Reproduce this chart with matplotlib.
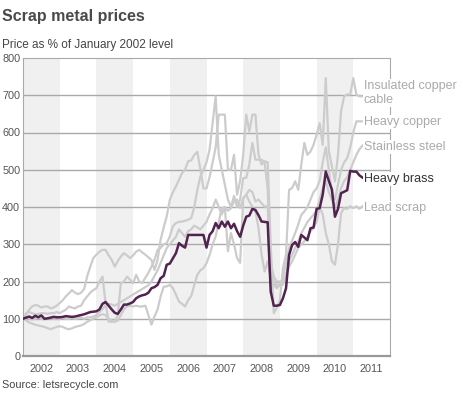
import numpy as np
import matplotlib
matplotlib.use("Agg")
import matplotlib.pyplot as plt

plt.rcParams['font.family'] = ['Liberation Sans', 'DejaVu Sans']

# monthly values, Jan 2002 .. Apr 2011 (price as % of Jan 2002)
heavy_brass = [
    100, 103, 106, 102, 108, 104, 109, 100, 101, 103, 105, 104,
    104, 105, 107, 106, 105, 106, 108, 110, 112, 115, 118, 119,
    120, 125, 140, 145, 135, 125, 116, 113, 125, 138, 138, 141,
    145, 155, 160, 163, 165, 170, 182, 185, 191, 209, 215, 245,
    248, 262, 276, 303, 296, 291, 325, 325, 325, 325, 325, 325,
    291, 325, 335, 357, 343, 361, 347, 361, 343, 355, 335, 320,
    350, 374, 377, 395, 392, 378, 361, 360, 359, 173, 135, 135,
    137, 155, 182, 271, 298, 306, 293, 325, 318, 311, 343, 345,
    395, 397, 433, 495, 470, 447, 374, 395, 437, 441, 445, 497,
    495, 495, 485, 479,
]
insulated_copper_cable = [
    100, 112, 124, 133, 137, 135, 130, 133, 133, 128, 130, 135,
    142, 150, 160, 168, 177, 170, 166, 170, 180, 214, 240, 263,
    272, 280, 285, 285, 270, 258, 240, 255, 267, 276, 270, 263,
    270, 280, 285, 278, 272, 265, 258, 231, 258, 312, 345, 375,
    419, 440, 455, 473, 491, 500, 523, 525, 540, 548, 500, 450,
    450, 480, 520, 560, 648, 648, 648, 500, 500, 540, 433, 470,
    540, 648, 603, 648, 648, 540, 514, 523, 520, 300, 115, 130,
    150, 236, 272, 446, 451, 469, 446, 514, 572, 540, 549, 567,
    594, 625, 567, 746, 549, 510, 469, 540, 657, 697, 702, 702,
    746, 702, 697, 697,
]
heavy_copper = [
    100, 115, 118, 115, 112, 113, 115, 115, 113, 115, 115, 118,
    115, 120, 124, 133, 130, 128, 133, 135, 150, 160, 170, 177,
    182, 200, 213, 142, 92, 92, 92, 110, 195, 200, 213, 205,
    195, 218, 200, 196, 210, 223, 240, 258, 285, 290, 300, 303,
    321, 348, 357, 360, 361, 363, 366, 370, 400, 446, 482, 500,
    520, 554, 625, 697, 540, 500, 460, 420, 400, 430, 400, 420,
    478, 478, 514, 572, 527, 527, 527, 520, 450, 227, 191, 182,
    191, 210, 250, 290, 310, 330, 353, 379, 388, 400, 420, 440,
    450, 470, 520, 560, 500, 440, 420, 460, 500, 520, 531, 560,
    600, 630, 630, 630,
]
stainless_steel = [
    100, 104, 100, 98, 100, 102, 100, 98, 100, 102, 100, 101,
    100, 102, 100, 100, 102, 100, 101, 103, 100, 104, 104, 106,
    110, 118, 126, 135, 140, 138, 135, 140, 145, 150, 155, 160,
    165, 170, 175, 180, 185, 190, 200, 215, 230, 250, 270, 290,
    300, 310, 320, 340, 330, 320, 335, 340, 350, 345, 340, 350,
    360, 380, 397, 420, 400, 380, 400, 390, 397, 415, 420, 397,
    424, 433, 446, 440, 415, 420, 410, 401, 402, 250, 213, 200,
    200, 191, 218, 254, 272, 290, 308, 330, 344, 360, 370, 379,
    390, 420, 450, 470, 440, 420, 400, 420, 450, 470, 480, 500,
    520, 540, 555, 565,
]
lead_scrap = [
    100, 96, 90, 87, 84, 82, 80, 78, 75, 72, 75, 78,
    80, 78, 74, 72, 74, 78, 80, 82, 86, 92, 96, 100,
    104, 109, 112, 110, 100, 96, 92, 95, 110, 125, 133, 135,
    133, 135, 133, 133, 135, 110, 84, 106, 125, 160, 186, 187,
    191, 182, 165, 146, 140, 133, 150, 161, 190, 218, 230, 236,
    249, 271, 300, 321, 360, 397, 400, 281, 330, 300, 263, 250,
    424, 433, 415, 400, 388, 344, 272, 227, 254, 209, 200, 190,
    191, 200, 218, 240, 254, 272, 290, 300, 308, 320, 335, 344,
    360, 400, 380, 330, 300, 254, 245, 300, 384, 397, 395, 402,
    397, 402, 395, 402,
]
years = list(range(2002, 2012))
grey_series = [
    ("Insulated copper\ncable", insulated_copper_cable, 706),
    ("Heavy copper", heavy_copper, 628),
    ("Stainless steel", stainless_steel, 561),
    ("Lead scrap", lead_scrap, 397),
]

t = 2002 + np.arange(len(heavy_brass)) / 12.0

fig = plt.figure(figsize=(4.64, 3.93), dpi=100)
ax = fig.add_axes([23/464, 37/393, 367/464, 298/393])

# alternate year shading
for y in years[::2]:
    ax.axvspan(y, y + 1, color='#f0f0f0', lw=0, zorder=0)

for v in range(100, 800, 100):
    ax.axhline(v, color='#aaaaaa', lw=1, zorder=1)

grey = '#cccccc'
for name, vals, ly in grey_series:
    ax.plot(t, vals, color=grey, lw=1.6, zorder=2, solid_joinstyle='round')
ax.plot(t, heavy_brass, color='#522250', lw=1.8, zorder=3, solid_joinstyle='round')

ax.set_xlim(2002, 2012)
ax.set_ylim(0, 800)
ax.set_yticks(range(0, 900, 100))
ax.set_xticks([y + 0.5 for y in years])
ax.set_xticklabels([str(y) for y in years])
ax.tick_params(axis='both', length=0, labelsize=7.8, colors='#555555')
ax.tick_params(axis='y', pad=2)
ax.tick_params(axis='x', pad=6)

for s in ['left', 'top', 'right']:
    ax.spines[s].set_color('#aaaaaa')
    ax.spines[s].set_linewidth(0.8)
ax.spines['bottom'].set_color('#999999')
ax.spines['bottom'].set_linewidth(1.6)

# series labels at the right end
lab_x = 2011.28
box = dict(facecolor='white', edgecolor='none', pad=0.5)
for name, vals, ly in grey_series:
    ax.text(lab_x, ly, name, fontsize=9, color='#aaaaaa', va='center', ha='left',
            linespacing=1.25, bbox=box, clip_on=False, zorder=5)
ax.text(lab_x, 475, "Heavy brass", fontsize=9, color='#333333', va='center',
        ha='left', bbox=box, clip_on=False, zorder=5)

fig.text(2/464, 1 - 17/393, "Scrap metal prices", fontsize=11.5, fontweight='bold',
         color='#4a4a4a', va='center', ha='left')
fig.text(2/464, 1 - 45/393, "Price as % of January 2002 level", fontsize=8.5,
         color='#444444', va='center', ha='left')
fig.text(2/464, 1 - 385/393, "Source: letsrecycle.com", fontsize=7.8,
         color='#444444', va='center', ha='left')

fig.savefig("out.png", dpi=100)
